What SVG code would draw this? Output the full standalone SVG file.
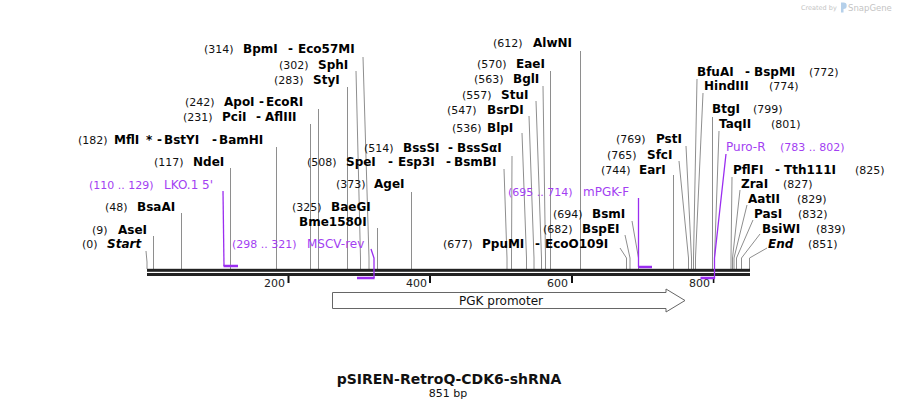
<svg xmlns="http://www.w3.org/2000/svg" width="898" height="408" viewBox="0 0 898 408">
<style>
text{font-family:"DejaVu Sans",Verdana,sans-serif}
.n{font-size:11px;fill:#111}
.e{font-size:12px;font-weight:bold;fill:#000}
.i{font-style:italic}
.p{font-size:12px;fill:#a33ff2}
.pn{font-size:11px;fill:#a33ff2}
.ld{stroke:#8e8e8e;stroke-width:1;fill:none}
.pl{stroke:#9a2df0;stroke-width:1.3;fill:none}
.pb{stroke:#9a2df0;stroke-width:2.5;fill:none}
.tk{font-size:11px;fill:#222;text-anchor:end}
.wm{fill:#c4c4c4}
</style>
<rect width="898" height="408" fill="#fff"/>
<g id="watermark">
<text class="wm" x="801" y="10" font-size="6.5">Created by</text>
<path d="M841,2.5 h2.5 a3.2,3.2 0 0 1 0,6.4 v3.5 h-2.5 z" fill="#b5d0ea"/>
<text class="wm" x="848" y="10.5" font-size="8.5">SnapGene</text>
</g>
<g id="connectors">
<polyline class="ld" points="146,251 147,262 147,269"/>
<polyline class="ld" points="153.5,236 153.5,269"/>
<polyline class="ld" points="181.5,213 181.5,269"/>
<polyline class="ld" points="230.5,168 230.5,269"/>
<polyline class="ld" points="276.5,147 276.5,269"/>
<polyline class="ld" points="310.5,124 310.5,269"/>
<polyline class="ld" points="318.5,109 318.5,269"/>
<polyline class="ld" points="347.5,87 347.5,269"/>
<polyline class="ld" points="356,71 360.5,258 360.5,269"/>
<polyline class="ld" points="363,57 369,258 369,269"/>
<polyline class="ld" points="377.5,228 377.5,269"/>
<polyline class="ld" points="411.5,192 411.5,269"/>
<polyline class="ld" points="504,169 507,258 507,269"/>
<polyline class="ld" points="512,156 511.5,258 511.5,269"/>
<polyline class="ld" points="522,133 526.5,258 526.5,269"/>
<polyline class="ld" points="529,116 534,258 534,269"/>
<polyline class="ld" points="536,101 541.5,258 541.5,269"/>
<polyline class="ld" points="543,86 545.5,258 545.5,269"/>
<polyline class="ld" points="550.5,71 550.5,269"/>
<polyline class="ld" points="580.5,51 580.5,269"/>
<polyline class="ld" points="620,248 626.5,258 626.5,269"/>
<polyline class="ld" points="625,235 630,258 630,269"/>
<polyline class="ld" points="632,221 638.5,258 638.5,269"/>
<polyline class="ld" points="673.5,175 673.5,269"/>
<polyline class="ld" points="679,161 688.5,258 688.5,269"/>
<polyline class="ld" points="686,146 691.5,258 691.5,269"/>
<polyline class="ld" points="697,79 693.5,258 693.5,269"/>
<polyline class="ld" points="703,93 695.5,258 695.5,269"/>
<polyline class="ld" points="712.5,117 712.5,269"/>
<polyline class="ld" points="719,131 714.5,258 714.5,269"/>
<polyline class="ld" points="732,177 731,258 731,269"/>
<polyline class="ld" points="740,190 732.5,258 732.5,269"/>
<polyline class="ld" points="747,205 734,258 734,269"/>
<polyline class="ld" points="753,220 736.5,258 736.5,269"/>
<polyline class="ld" points="760,234 741.5,258 741.5,269"/>
<polyline class="ld" points="767,248 749.5,258 749.5,269"/>
</g>
<g id="backbone">
<rect x="147" y="268.8" width="603" height="3" fill="#222"/>
<rect x="147" y="273" width="603" height="3" fill="#222"/>
<rect x="287.5" y="276" width="2" height="7" fill="#111"/>
<rect x="429" y="276" width="2" height="7" fill="#111"/>
<rect x="571" y="276" width="2" height="7" fill="#111"/>
<rect x="712.8" y="279" width="1.6" height="4" fill="#111"/>
<text class="tk" x="285" y="287">200</text>
<text class="tk" x="427" y="287">400</text>
<text class="tk" x="568" y="287">600</text>
<text class="tk" x="710" y="287">800</text>
</g>
<g id="start"><text class="n" x="82" y="248">(0)</text><text class="e i" x="107" y="248">Start</text></g>
<g id="AseI"><text class="n" x="92" y="234">(9)</text><text class="e" x="118" y="234">AseI</text></g>
<g id="BsaAI"><text class="n" x="105" y="211">(48)</text><text class="e" x="137" y="211">BsaAI</text></g>
<g id="LKO1-5"><text class="pn" x="89" y="189">(110 .. 129)</text><text class="p" x="164" y="189">LKO.1 5'</text>
<polyline class="pl" points="223,191 224,266"/><line class="pb" x1="223.5" y1="266" x2="238" y2="266"/></g>
<g id="NdeI"><text class="n" x="154" y="166">(117)</text><text class="e" x="193" y="166">NdeI</text></g>
<g id="MflI"><text class="n" x="78" y="144">(182)</text><text class="e" y="144"><tspan x="114">MflI</tspan><tspan x="146">*</tspan><tspan x="157">-</tspan><tspan x="164">BstYI</tspan><tspan x="212">-</tspan><tspan x="219">BamHI</tspan></text></g>
<g id="PciI"><text class="n" x="183" y="121">(231)</text><text class="e" y="121"><tspan x="222">PciI</tspan><tspan x="256">-</tspan><tspan x="265">AflIII</tspan></text></g>
<g id="ApoI"><text class="n" x="185" y="106">(242)</text><text class="e" y="106"><tspan x="224">ApoI</tspan><tspan x="259">-</tspan><tspan x="266">EcoRI</tspan></text></g>
<g id="StyI"><text class="n" x="274" y="84">(283)</text><text class="e" x="313" y="84">StyI</text></g>
<g id="SphI"><text class="n" x="279" y="69">(302)</text><text class="e" x="318" y="69">SphI</text></g>
<g id="BpmI"><text class="n" x="204" y="53">(314)</text><text class="e" y="53"><tspan x="243">BpmI</tspan><tspan x="288">-</tspan><tspan x="298">Eco57MI</tspan></text></g>
<g id="BaeGI"><text class="n" x="292" y="211">(325)</text><text class="e" x="331" y="211">BaeGI</text><text class="e" x="299" y="226">Bme1580I</text></g>
<g id="MSCV-rev"><text class="pn" x="232" y="248">(298 .. 321)</text><text class="p" x="307" y="248">MSCV-rev</text>
<polyline class="pl" points="371,249 374,258 374,278"/><line class="pb" x1="357" y1="278" x2="374.6" y2="278"/></g>
<g id="AgeI"><text class="n" x="336" y="188">(373)</text><text class="e" x="374" y="188">AgeI</text></g>
<g id="SpeI"><text class="n" x="307" y="166">(508)</text><text class="e" y="166"><tspan x="346">SpeI</tspan><tspan x="388">-</tspan><tspan x="398">Esp3I</tspan><tspan x="446">-</tspan><tspan x="454">BsmBI</tspan></text></g>
<g id="BssSI"><text class="n" x="364" y="152">(514)</text><text class="e" y="152"><tspan x="403">BssSI</tspan><tspan x="448">-</tspan><tspan x="457">BssSαI</tspan></text></g>
<g id="BlpI"><text class="n" x="452" y="132">(536)</text><text class="e" x="487" y="132">BlpI</text></g>
<g id="BsrDI"><text class="n" x="447" y="114">(547)</text><text class="e" x="487" y="114">BsrDI</text></g>
<g id="StuI"><text class="n" x="462" y="99">(557)</text><text class="e" x="501" y="99">StuI</text></g>
<g id="BglI"><text class="n" x="474" y="83">(563)</text><text class="e" x="513" y="83">BglI</text></g>
<g id="EaeI"><text class="n" x="477" y="68">(570)</text><text class="e" x="516" y="68">EaeI</text></g>
<g id="AlwNI"><text class="n" x="493" y="47">(612)</text><text class="e" x="533" y="47">AlwNI</text></g>
<g id="PpuMI"><text class="n" x="443" y="248">(677)</text><text class="e" y="248"><tspan x="482">PpuMI</tspan><tspan x="535">-</tspan><tspan x="545">EcoO109I</tspan></text></g>
<g id="BspEI"><text class="n" x="543" y="233">(682)</text><text class="e" x="582" y="233">BspEI</text></g>
<g id="BsmI"><text class="n" x="553" y="218">(694)</text><text class="e" x="592" y="218">BsmI</text></g>
<g id="mPGK-F"><text class="pn" x="508" y="196">(695 .. 714)</text><text class="p" x="583" y="196">mPGK-F</text>
<polyline class="pl" points="638.5,198 638.5,267"/><line class="pb" x1="638" y1="267" x2="652" y2="267"/></g>
<g id="EarI"><text class="n" x="601" y="174">(744)</text><text class="e" x="639" y="174">EarI</text></g>
<g id="SfcI"><text class="n" x="607" y="159">(765)</text><text class="e" x="647" y="159">SfcI</text></g>
<g id="PstI"><text class="n" x="616" y="143">(769)</text><text class="e" x="656" y="143">PstI</text></g>
<g id="BfuAI"><text class="e" y="76"><tspan x="697">BfuAI</tspan><tspan x="745">-</tspan><tspan x="754">BspMI</tspan></text><text class="n" x="809" y="76">(772)</text></g>
<g id="HindIII"><text class="e" x="704" y="90">HindIII</text><text class="n" x="769" y="90">(774)</text></g>
<g id="BtgI"><text class="e" x="712" y="113">BtgI</text><text class="n" x="753" y="113">(799)</text></g>
<g id="TaqII"><text class="e" x="719" y="128">TaqII</text><text class="n" x="771" y="128">(801)</text></g>
<g id="Puro-R"><text class="p" x="726" y="151">Puro-R</text><text class="pn" x="780" y="151">(783 .. 802)</text>
<polyline class="pl" points="726,154 714.5,258 714.5,278"/><line class="pb" x1="700.5" y1="278" x2="715.1" y2="278"/></g>
<g id="PflFI"><text class="e" y="174"><tspan x="733">PflFI</tspan><tspan x="775">-</tspan><tspan x="784">Tth111I</tspan></text><text class="n" x="855" y="174">(825)</text></g>
<g id="ZraI"><text class="e" x="741" y="188">ZraI</text><text class="n" x="783" y="188">(827)</text></g>
<g id="AatII"><text class="e" x="748" y="203">AatII</text><text class="n" x="797" y="203">(829)</text></g>
<g id="PasI"><text class="e" x="754" y="218">PasI</text><text class="n" x="798" y="218">(832)</text></g>
<g id="BsiWI"><text class="e" x="762" y="233">BsiWI</text><text class="n" x="816" y="233">(839)</text></g>
<g id="end"><text class="e i" x="768" y="248">End</text><text class="n" x="808" y="248">(851)</text></g>
<g id="PGK-promoter">
<polygon points="332.5,292.5 666,292.5 666,289 685,300.5 666,312 666,308.5 332.5,308.5" fill="#fff" stroke="#666" stroke-width="1"/>
<text x="501" y="305" font-size="12" fill="#111" text-anchor="middle">PGK promoter</text>
</g>
<g id="title">
<text x="449" y="384" font-size="14" font-weight="bold" fill="#111" text-anchor="middle">pSIREN-RetroQ-CDK6-shRNA</text>
<text x="448" y="397" font-size="11" fill="#111" text-anchor="middle">851 bp</text>
</g>
</svg>
